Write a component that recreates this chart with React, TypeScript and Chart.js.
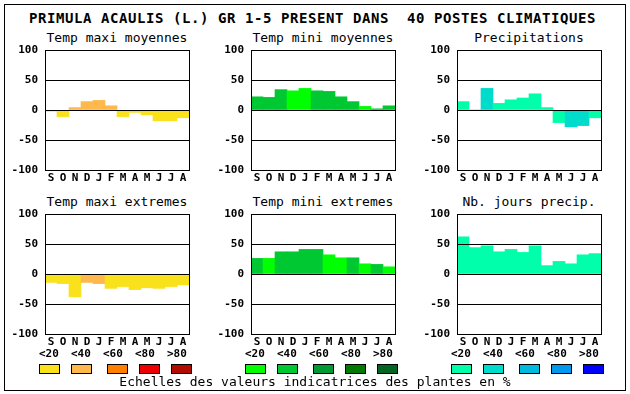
import React, { useEffect, useRef } from 'react';
import { Chart, registerables } from 'chart.js';
Chart.register(...registerables);

const MONTHS = ['S', 'O', 'N', 'D', 'J', 'F', 'M', 'A', 'M', 'J', 'J', 'A'];
const Y_MIN = -100;
const Y_MAX = 100;
const Y_STEP = 50;
const LEGEND_LABELS = ['<20', '<40', '<60', '<80', '>80'];

const TITLE = 'PRIMULA ACAULIS (L.) GR 1-5 PRESENT DANS  40 POSTES CLIMATIQUES';
const FOOTER = 'Echelles des valeurs indicatrices des plantes en %';

const PAL_MAXI = ['#f9e11c', '#ffb84c', '#ff7f00', '#ee0000', '#b00c00'];
const PAL_MINI = ['#00ff00', '#00c832', '#009933', '#007a00', '#006622'];
const PAL_PREC = ['#00ffaa', '#00dccc', '#00bbdd', '#0099ee', '#0000ff'];

// Temp maxi moyennes
const tempMaxiMoy = [-2, -11, 4, 14, 16, 7, -11, -4, -8, -18, -18, -13];
const tempMaxiMoyCls = [0, 0, 1, 1, 1, 1, 0, 0, 0, 0, 0, 0];
// Temp mini moyennes
const tempMiniMoy = [22, 21, 34, 32, 36, 32, 31, 22, 14, 6, 2, 7];
const tempMiniMoyCls = [1, 1, 1, 0, 0, 1, 1, 1, 1, 0, 1, 1];
// Precipitations
const precip = [14, 0, 36, 11, 17, 20, 27, 4, -21, -28, -26, -13];
const precipCls = [0, 0, 1, 0, 0, 0, 0, 0, 0, 1, 1, 0];
// Temp maxi extremes
const tempMaxiExt = [-14, -16, -38, -14, -16, -24, -21, -26, -23, -24, -21, -18];
const tempMaxiExtCls = [0, 0, 0, 1, 1, 0, 0, 0, 0, 0, 0, 0];
// Temp mini extremes
const tempMiniExt = [26, 26, 37, 37, 41, 41, 32, 27, 27, 17, 16, 12];
const tempMiniExtCls = [1, 0, 1, 1, 1, 1, 0, 0, 1, 0, 1, 0];
// Nb. jours precip.
const nbJours = [62, 44, 47, 37, 41, 36, 47, 14, 21, 17, 32, 34];
const nbJoursCls = [0, 0, 0, 0, 0, 0, 0, 0, 0, 0, 0, 0];

const FONT = '"DejaVu Sans Mono", "Liberation Mono", monospace';

const framePlugin = {
  id: 'frame',
  afterDraw(chart: any) {
    const { ctx, chartArea: a } = chart;
    ctx.save();
    ctx.strokeStyle = '#000';
    ctx.lineWidth = 1;
    ctx.strokeRect(a.left + 0.5, a.top + 0.5, a.right - a.left, a.bottom - a.top);
    ctx.restore();
  },
};

const PAD_L = 45;
const PAD_T = 8;
const PLOT_W = 144;
const PLOT_H = 120;
const PAD_R = 8;
const PAD_B = 20;

function Panel(props: {
  title: string;
  values: number[];
  cls: number[];
  palette: string[];
  left: number;
  top: number;
  titleTop: number;
}) {
  const ref = useRef<HTMLCanvasElement>(null);
  useEffect(() => {
    if (!ref.current) return;
    const chart = new Chart(ref.current, {
      type: 'bar',
      data: {
        labels: MONTHS,
        datasets: [
          {
            data: props.values,
            backgroundColor: props.cls.map((c) => props.palette[c]),
            borderWidth: 0,
            barPercentage: 1,
            categoryPercentage: 1,
          },
        ],
      },
      options: {
        animation: false,
        responsive: false,
        devicePixelRatio: 1,
        events: [],
        layout: { padding: { left: 0, top: PAD_T, right: PAD_R, bottom: 0 } },
        plugins: { legend: { display: false }, tooltip: { enabled: false }, title: { display: false } },
        scales: {
          x: {
            grid: { display: false, drawTicks: false },
            border: { display: false },
            ticks: {
              color: '#000',
              padding: 2,
              autoSkip: false,
              maxRotation: 0,
              font: { family: FONT, size: 11, weight: 'bold' },
            },
            afterFit: (s: any) => {
              s.height = PAD_B;
              s.paddingLeft = 0;
              s.paddingRight = 0;
            },
          },
          y: {
            min: Y_MIN,
            max: Y_MAX,
            grid: { color: '#000', lineWidth: 1, drawTicks: false, z: 1 },
            border: { display: false },
            ticks: {
              stepSize: Y_STEP,
              color: '#000',
              padding: 7,
              font: { family: FONT, size: 11, weight: 'bold' },
            },
            afterFit: (s: any) => {
              s.width = PAD_L;
              s.paddingTop = 0;
              s.paddingBottom = 0;
            },
          },
        },
      },
      plugins: [framePlugin],
    } as any);
    return () => chart.destroy();
  }, []);
  return (
    <>
      <div
        style={{
          position: 'absolute',
          left: props.left - 20,
          width: PLOT_W + 40,
          top: props.titleTop,
          textAlign: 'center',
          font: `13px/13px ${FONT}`,
          color: '#000',
          whiteSpace: 'pre',
        }}
      >
        {props.title}
      </div>
      <canvas
        ref={ref}
        width={PAD_L + PLOT_W + PAD_R}
        height={PAD_T + PLOT_H + PAD_B}
        style={{
          position: 'absolute',
          left: props.left - PAD_L,
          top: props.top - PAD_T,
          width: PAD_L + PLOT_W + PAD_R,
          height: PAD_T + PLOT_H + PAD_B,
        }}
      />
    </>
  );
}

function Legend(props: { palette: string[]; left: number }) {
  const labelOff = [-6, 26, 58, 90, 122];
  const boxOff = [-6, 26, 62, 94, 126];
  return (
    <>
      {LEGEND_LABELS.map((l, i) => (
        <div
          key={'l' + i}
          style={{
            position: 'absolute',
            left: props.left + labelOff[i],
            top: 348,
            font: `bold 11px/11px ${FONT}`,
            color: '#000',
            whiteSpace: 'pre',
          }}
        >
          {l}
        </div>
      ))}
      {props.palette.map((c, i) => (
        <div
          key={'b' + i}
          style={{
            position: 'absolute',
            left: props.left + boxOff[i],
            top: 364,
            width: 21,
            height: 10,
            boxSizing: 'border-box',
            border: '1px solid #000',
            background: c,
          }}
        />
      ))}
    </>
  );
}

export default function App() {
  const lefts = [45, 251, 457];
  return (
    <div style={{ position: 'fixed', left: 0, top: 0, width: 630, height: 394, background: '#fff', overflow: 'hidden' }}>
      <div
        style={{
          position: 'absolute',
          left: 4,
          top: 4,
          width: 622,
          height: 387,
          boxSizing: 'border-box',
          border: '1px solid #000',
        }}
      />
      <div
        style={{
          position: 'absolute',
          left: 29,
          top: 11,
          font: `bold 14px/14px ${FONT}`,
          letterSpacing: '0.57px',
          color: '#000',
          whiteSpace: 'pre',
        }}
      >
        {TITLE}
      </div>
      <Panel title="Temp maxi moyennes" values={tempMaxiMoy} cls={tempMaxiMoyCls} palette={PAL_MAXI} left={lefts[0]} top={50} titleTop={31} />
      <Panel title="Temp mini moyennes" values={tempMiniMoy} cls={tempMiniMoyCls} palette={PAL_MINI} left={lefts[1]} top={50} titleTop={31} />
      <Panel title="Precipitations" values={precip} cls={precipCls} palette={PAL_PREC} left={lefts[2]} top={50} titleTop={31} />
      <Panel title="Temp maxi extremes" values={tempMaxiExt} cls={tempMaxiExtCls} palette={PAL_MAXI} left={lefts[0]} top={214} titleTop={195} />
      <Panel title="Temp mini extremes" values={tempMiniExt} cls={tempMiniExtCls} palette={PAL_MINI} left={lefts[1]} top={214} titleTop={195} />
      <Panel title="Nb. jours precip." values={nbJours} cls={nbJoursCls} palette={PAL_PREC} left={lefts[2]} top={214} titleTop={195} />
      <Legend palette={PAL_MAXI} left={lefts[0]} />
      <Legend palette={PAL_MINI} left={lefts[1]} />
      <Legend palette={PAL_PREC} left={lefts[2]} />
      <div
        style={{
          position: 'absolute',
          left: 0,
          width: 630,
          top: 375,
          textAlign: 'center',
          font: `13px/13px ${FONT}`,
          color: '#000',
          whiteSpace: 'pre',
        }}
      >
        {FOOTER}
      </div>
    </div>
  );
}
